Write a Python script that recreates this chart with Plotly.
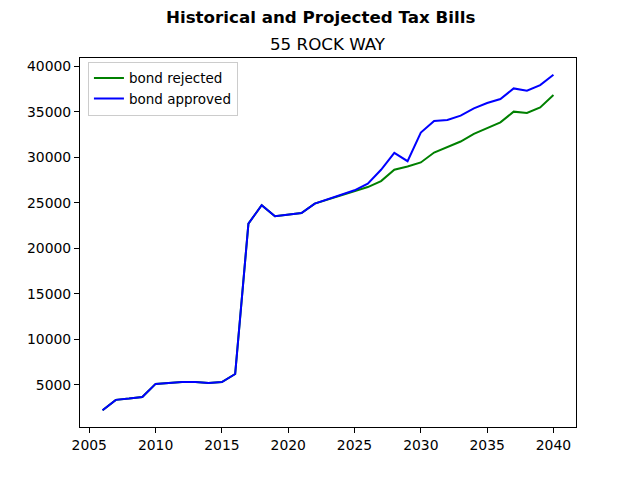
import plotly.graph_objects as go

years = list(range(2006, 2041))
bond_rejected = [2210, 3350, 3490, 3670, 5100, 5240, 5310, 5310, 5200, 5310, 6190,
                 22710, 24720, 23510, 23700, 23870, 24900, 25370, 25840, 26280, 26720,
                 27370, 28620, 28980, 29420, 30510, 31090, 31720, 32560, 33220, 33830,
                 35000, 34860, 35470, 36830]
bond_approved = [2210, 3350, 3490, 3670, 5100, 5240, 5310, 5310, 5200, 5310, 6190,
                 22710, 24720, 23510, 23700, 23870, 24900, 25370, 25840, 26360, 27090,
                 28620, 30480, 29560, 32700, 33980, 34090, 34560, 35360, 35950, 36390,
                 37550, 37300, 37920, 39050]
xticks = [2005, 2010, 2015, 2020, 2025, 2030, 2035, 2040]
yticks = [5000, 10000, 15000, 20000, 25000, 30000, 35000, 40000]

font = "DejaVu Sans"
fig = go.Figure()
fig.add_trace(go.Scatter(x=years, y=bond_rejected, mode="lines", name="bond rejected",
                         line=dict(color="green", width=2)))
fig.add_trace(go.Scatter(x=years, y=bond_approved, mode="lines", name="bond approved",
                         line=dict(color="blue", width=2)))

x0, x1 = min(years), max(years)
ymin = min(bond_rejected + bond_approved)
ymax = max(bond_rejected + bond_approved)
xm = (x1 - x0) * 0.05
ym = (ymax - ymin) * 0.05

axis_common = dict(showgrid=False, zeroline=False, showline=True, linecolor="black",
                   linewidth=1, mirror=True, ticks="outside", ticklen=5, tickwidth=1,
                   tickcolor="black", tickfont=dict(family=font, size=13.9, color="black"))
pw = 640 - 80 - 64
ph = 480 - 57.6 - 52.8
fig.update_layout(
    width=640, height=480,
    margin=dict(l=80, r=64, t=57.6, b=52.8),
    paper_bgcolor="white", plot_bgcolor="white",
    font=dict(family=font, color="black"),
    xaxis=dict(range=[x0 - xm, x1 + xm], tickvals=xticks, tickformat="d", **axis_common),
    yaxis=dict(range=[ymin - ym, ymax + ym], tickvals=yticks, tickformat="d", **axis_common),
    legend=dict(x=0.016, y=0.99, xanchor="left", yanchor="top",
                bgcolor="rgba(255,255,255,0.8)", bordercolor="#cccccc", borderwidth=1,
                font=dict(family=font, size=13.5, color="black"), tracegroupgap=0),
    showlegend=True,
)
fig.add_annotation(text="<b>Historical and Projected Tax Bills</b>", xref="paper", yref="paper",
                   x=(320 - 80) / pw, y=1 + (57.6 - 17) / ph, xanchor="center", yanchor="middle",
                   showarrow=False, font=dict(family=font, size=16.7, color="black"))
fig.add_annotation(text="55 ROCK WAY", xref="paper", yref="paper",
                   x=0.5, y=1 + (57.6 - 44) / ph, xanchor="center", yanchor="middle",
                   showarrow=False, font=dict(family=font, size=16.7, color="black"))
fig.write_html("out.html")
